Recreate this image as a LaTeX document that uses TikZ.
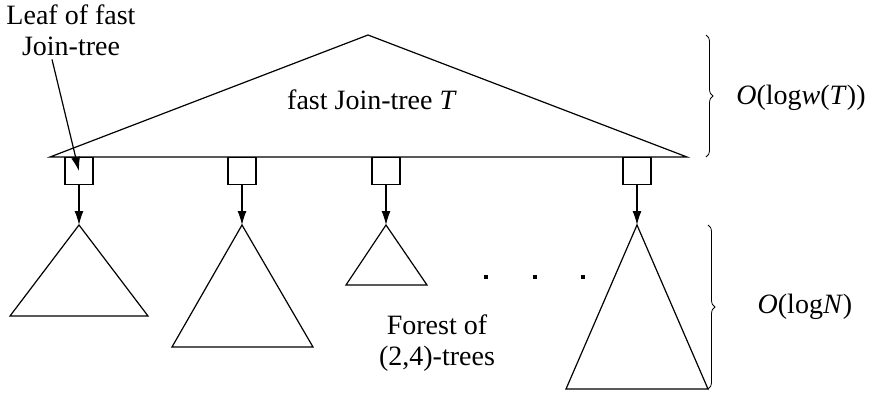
\documentclass[tikz,border=0pt]{standalone}
\usepackage{fontspec}
\setmainfont{Liberation Serif}
\usetikzlibrary{arrows.meta, decorations.pathreplacing}

\begin{document}
\begin{tikzpicture}[>={Latex[length=14pt,width=9pt]}, x=1pt, y=-1pt, line width=1.2pt,
    font=\fontsize{28}{31}\selectfont]
    \useasboundingbox (0,0) rectangle (871,392);

    % fast Join-tree
    \draw (50,157) -- (368,35) -- (687,157) -- cycle;
    \node (jointree) at (372,100) {fast Join-tree \textit{T}};

    % Leaves of the Join-tree
    \foreach \i/\x in {1/79, 2/242, 3/386, 4/637}
        \node[draw, minimum width=28pt, minimum height=27pt, inner sep=0pt, anchor=north] (leaf\i) at (\x,157) {};

    % (2,4)-trees
    \foreach \i/\x/\l/\r/\b in {1/79/10/148/316, 2/242/172/313/347, 3/386/346/427/285, 4/637/566/708/389} {
        \coordinate (root\i) at (\x,225);
        \draw (root\i) -- (\l,\b) -- (\r,\b) -- cycle;
        \draw[->] (leaf\i.south) -- (root\i);
    }

    % dots
    \foreach \x in {486, 535, 583}
        \node[fill, inner sep=0pt, minimum size=3.5pt] at (\x,277) {};

    % labels
    \node[align=center] (leaflabel) at (71,30) {Leaf of fast\\Join-tree};
    \draw[->] ([xshift=-19pt]leaflabel.south) -- (leaf1.center);
    \node[align=center] (forest) at (437,343) {Forest of\\(2,4)-trees};

    % braces
    \draw[line width=0.8pt, decorate, decoration={brace, amplitude=7pt}] (706,35) -- (706,157);
    \node (toph) at (801,98) {\textit{O}(log\textit{w}(\textit{T}))};
    \draw[line width=0.8pt, decorate, decoration={brace, amplitude=7pt}] (708,225) -- (708,389);
    \node (both) at (805,307) {\textit{O}(log\textit{N})};
\end{tikzpicture}
\end{document}
